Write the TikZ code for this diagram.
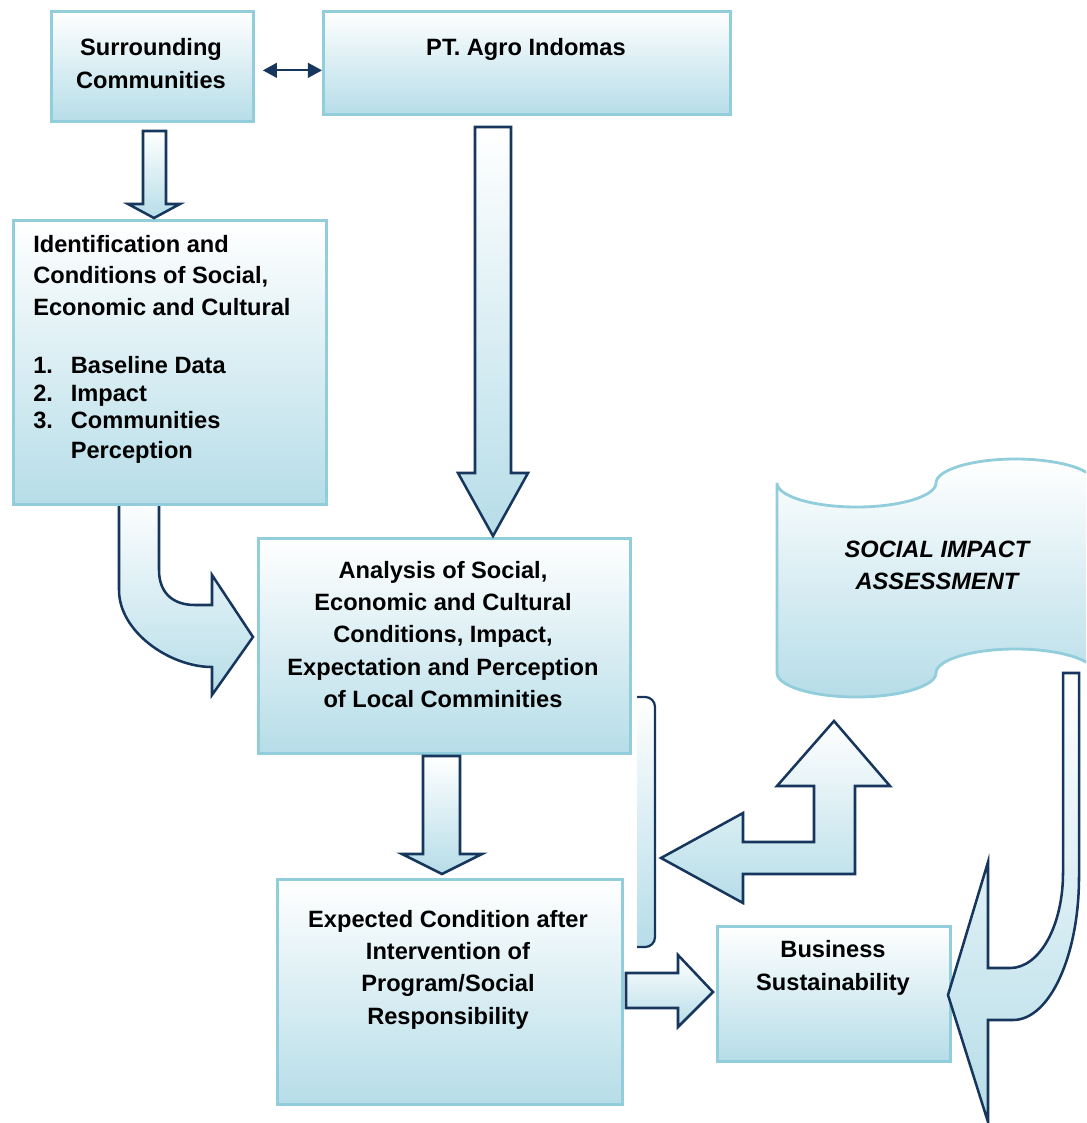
\documentclass[tikz,border=0pt]{standalone}
\usepackage{fontspec}
\setmainfont{Liberation Sans}
\usepackage{tikz}
\usetikzlibrary{arrows.meta,positioning,backgrounds}
\definecolor{boxline}{HTML}{92CDDC}
\definecolor{boxfill}{HTML}{B6DDE8}
\definecolor{navy}{HTML}{17365D}

\begin{document}
\begin{tikzpicture}[
    x=0.025cm, y=-0.025cm,
    >={Triangle[length=10pt,width=10.5pt]},
    font=\bfseries\fontsize{16.8}{23}\selectfont,
    block/.style={
		rectangle,
		draw=boxline,
		line width=2pt,
		top color=white,
		bottom color=boxfill,
		inner sep=0pt,
		anchor=north west
	},
	txt/.style={
		inner sep=0pt,
		anchor=base
	},
	fat/.style={
		draw=navy,
		line width=1.8pt,
		top color=white,
		bottom color=boxfill
	},
	wave/.style={
		draw=boxline,
		line width=2pt,
		top color=white,
		bottom color=boxfill
	}
  ]
  \useasboundingbox (0,0) rectangle (1086,1123);

    % We start by placing the blocks
  \node [block, minimum width=5.05cm, minimum height=2.75cm] (sc) at (50,10) {};
  \node [block, minimum width=10.175cm, minimum height=2.575cm] (pt) at (322,10) {};
  \node [block, minimum width=7.825cm, minimum height=7.1cm] (ident) at (12,219) {};
  \node [block, minimum width=9.3cm, minimum height=5.375cm] (anal) at (257,537) {};
  \node [block, minimum width=8.625cm, minimum height=5.625cm] (expc) at (276,878) {};
  \node [block, minimum width=5.825cm, minimum height=3.375cm] (bus) at (716,925) {};

  % the tape shape, cut at the right border
  \begin{scope}
    \clip (0,0) rectangle (1086,1123);
    \draw [wave] (777,483) .. controls (777,496) and (812.6,507) .. (856.5,507)
      .. controls (900.4,507) and (936,496) .. (936,483)
      .. controls (936,470) and (971.6,459) .. (1015.5,459)
      .. controls (1059.4,459) and (1095,470) .. (1095,483)
      -- (1095,673) .. controls (1095,660) and (1059.4,649) .. (1015.5,649)
      .. controls (971.6,649) and (936,660) .. (936,673)
      .. controls (936,686) and (900.4,697) .. (856.5,697)
      .. controls (812.6,697) and (777,686) .. (777,673) -- cycle;
  \end{scope}

  % texts
  \node [txt] (sctext) at (151,56)
 {%
 \begin{tabular}[t]{@{}c@{}}
  Surrounding\\
  Communities
 \end{tabular}
 };
  \node [txt] (pttext) at (526,56) {PT. Agro Indomas};
  \node [txt, anchor=base west] (identtext) at (33,252)
 {%
 \begin{tabular}[t]{@{}l@{}}
  Identification and\\[-0.4pt]
  Conditions of Social,\\[-0.4pt]
  Economic and Cultural\\[18pt]
  \makebox[26.7pt][l]{1.}Baseline Data\\[-3.2pt]
  \makebox[26.7pt][l]{2.}Impact\\[-3.2pt]
  \makebox[26.7pt][l]{3.}Communities\\[-2pt]
  \makebox[26.7pt][l]{}Perception
 \end{tabular}
 };
  \node [txt] (analtext) at (443,578)
 {%
 \begin{tabular}[t]{@{}c@{}}
  Analysis of Social,\\
  Economic and Cultural\\
  Conditions, Impact,\\
  Expectation and Perception\\
  of Local Comminities
 \end{tabular}
 };
  \node [txt] (expctext) at (448,927)
 {%
 \begin{tabular}[t]{@{}c@{}}
  Expected Condition after\\
  Intervention of\\
  Program/Social\\
  Responsibility
 \end{tabular}
 };
  \node [txt] (bustext) at (833,957)
 {%
 \begin{tabular}[t]{@{}c@{}}
  Business\\[1pt]
  Sustainability
 \end{tabular}
 };
  \node [txt] (sia) at (937,557)
 {%
 \itshape
 \begin{tabular}[t]{@{}c@{}}
  SOCIAL IMPACT\\
  ASSESSMENT
 \end{tabular}
 };

  % connectors
  \draw [<->, draw=navy, fill=navy, line width=1.4pt, shorten <=5.7pt]
    ([yshift=-2.8pt]sc.east) -- ([yshift=-2.8pt]sc.east -| pt.west);

  \draw [fat] (143,131) -- (166,131) -- (166,204) -- (180,204) -- (154,218) -- (128,204) -- (143,204) -- cycle;
  \draw [fat] (475,127) -- (511,127) -- (511,473) -- (528,473) -- (493,536) -- (458,473) -- (475,473) -- cycle;
  \draw [fat] (423,756) -- (460,756) -- (460,854) -- (482,854) -- (442,874) -- (402,854) -- (423,854) -- cycle;
  \draw [fat] (626,973) -- (678,973) -- (678,955) -- (713,992) -- (678,1027) -- (678,1008) -- (626,1008) -- cycle;
  \draw [fat] (661,858) -- (743,813) -- (743,842) -- (814,842) -- (814,786) -- (777,786) -- (834,721)
    -- (890,786) -- (855,786) -- (855,874) -- (743,874) -- (743,903) -- cycle;
  \draw [fat] (988,862) -- (988,968) -- (1010,968) .. controls (1040,968) and (1063,925) .. (1063,873)
    -- (1063,673) -- (1079,673) -- (1079,877) .. controls (1079,955) and (1050,1020) .. (1013,1020)
    -- (988,1020) -- (988,1122) -- (948,995) -- cycle;
  \begin{pgfonlayer}{background}
    \draw [fat] (119,495) -- (119,590) .. controls (119,632) and (170,667) .. (212,667)
      -- (212,695) -- (253,637) -- (212,575) -- (212,605) -- (195,605)
      .. controls (172,605) and (159,592) .. (159,570) -- (159,495) -- cycle;
  \end{pgfonlayer}

  % bracket at the right of the analysis
  \draw [draw=navy, line width=1.6pt, rounded corners=7pt, top color=white, bottom color=boxfill]
    (637,697) -- (655,697) -- (655,947) -- (637,947);

\end{tikzpicture}
\end{document}
